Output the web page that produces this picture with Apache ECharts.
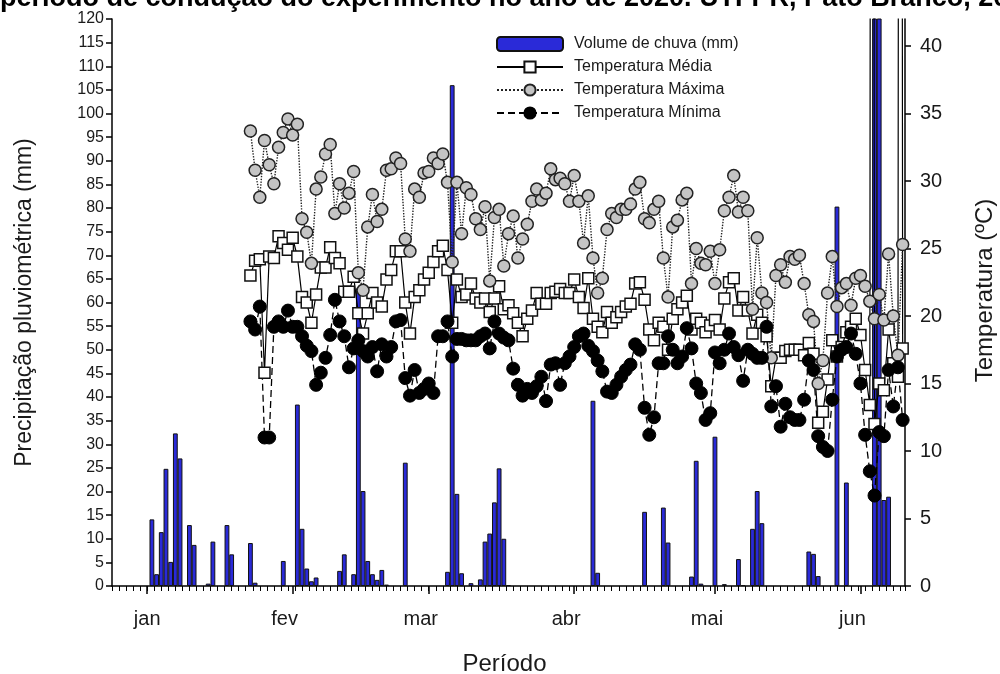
<!DOCTYPE html>
<html><head><meta charset="utf-8">
<script src="https://cdn.jsdelivr.net/npm/echarts@6/dist/echarts.min.js"></script>
<style>html,body{margin:0;padding:0;background:#fff}#c{width:1000px;height:674px}</style>
</head><body><div id="c"></div>
<script>
const titleText = 'período de condução do experimento no ano de 2020. UTFPR, Pato Branco, 2020.';
const monthLabels = ['jan', 'fev', 'mar', 'abr', 'mai', 'jun'];
const monthStartDays = [0, 31, 60, 91, 121, 152];
const rightTicks = [0,5,10,15,20,25,30,35,40];
const firstTempDay = 22;
const tempMax = [
  33.7,30.8,28.8,33.0,31.2,29.8,32.5,33.6,34.6,33.4,
  34.2,27.2,26.2,23.9,29.4,30.3,32.0,32.7,27.6,29.8,
  28.0,29.1,30.7,23.2,21.9,26.6,29.0,27.0,27.9,30.8,
  30.9,31.7,31.3,25.7,24.8,29.4,28.8,30.6,30.7,31.7,
  31.3,32.0,29.9,24.0,29.9,26.1,29.5,29.0,27.2,26.4,
  28.1,22.6,27.3,27.9,23.7,26.1,27.4,24.3,25.7,26.8,
  28.5,29.4,28.6,29.1,30.9,30.1,30.2,29.8,28.5,30.4,
  28.5,25.4,28.9,24.3,21.7,22.8,26.4,27.6,27.3,27.9,
  27.9,28.3,29.4,29.9,27.2,26.9,27.9,28.5,24.3,21.4,
  26.6,27.1,28.6,29.1,22.4,25.0,23.9,23.8,24.8,22.4,
  24.9,27.8,28.8,30.4,27.7,28.8,27.8,20.5,25.8,21.7,
  21.0,16.9,23.0,23.8,22.5,24.4,24.2,24.5,22.4,20.1,
  19.6,15.0,16.7,21.7,24.4,20.7,22.1,22.4,20.8,22.8,
  23.0,22.2,21.1,19.8,21.6,19.7,24.6,20.0,17.1,25.3
];
const tempMean = [
  23.0,24.1,24.2,15.8,24.4,24.3,25.9,25.4,24.9,25.8,
  24.4,21.4,21.0,19.5,21.6,23.6,23.6,25.1,24.3,23.9,
  21.8,21.8,22.9,20.2,18.7,20.2,21.7,21.0,20.7,22.7,
  23.4,24.8,24.8,21.0,18.7,21.4,21.9,22.7,23.2,24.0,
  24.8,25.2,23.4,19.5,22.7,21.4,21.6,22.4,21.3,21.0,
  21.3,20.3,21.3,22.2,20.5,20.8,20.2,19.5,18.5,19.8,
  20.4,21.7,20.9,20.9,21.7,21.8,22.0,21.7,21.7,22.7,
  21.4,20.6,22.8,19.8,19.2,18.8,20.3,19.5,19.9,20.3,
  20.7,20.9,22.4,22.5,21.2,19.0,18.2,19.5,19.2,17.5,
  19.8,20.5,21.0,21.5,19.0,19.8,19.5,18.8,19.3,19.7,
  19.0,21.3,22.5,22.8,20.4,21.4,20.4,18.7,20.1,19.5,
  18.5,14.8,16.9,16.9,17.4,17.5,17.5,17.5,17.1,18.0,
  17.2,12.1,12.9,15.3,18.2,17.0,17.7,18.8,19.2,19.8,
  18.6,16.0,13.4,12.0,15.0,14.5,19.0,16.5,15.5,17.6
];
const tempMin = [
  19.6,19.0,20.7,11.0,11.0,19.2,19.6,19.2,20.4,19.2,
  19.2,18.5,17.8,17.4,14.9,15.8,16.9,18.6,21.2,19.6,
  18.5,16.2,17.6,18.2,17.4,17.0,17.7,15.9,17.9,17.0,
  17.7,19.6,19.7,15.4,14.1,16.0,14.3,14.6,15.0,14.3,
  18.5,18.5,19.6,17.0,18.3,18.3,18.2,18.2,18.2,18.5,
  18.7,17.6,19.6,18.7,18.4,18.2,16.1,14.9,14.1,14.6,
  14.3,14.8,15.5,13.7,16.4,16.5,14.9,16.5,17.0,17.7,
  18.5,18.7,17.8,17.4,16.7,15.9,14.4,14.3,14.9,15.5,
  16.0,16.4,17.9,17.5,13.2,11.2,12.5,16.5,16.5,18.5,
  17.5,16.5,17.0,19.1,17.6,15.0,14.3,12.3,12.8,17.3,
  16.5,17.5,18.7,17.7,17.1,15.2,17.5,17.2,16.9,16.9,
  19.2,13.3,14.8,11.8,13.5,12.5,12.3,12.3,13.8,16.7,
  16.0,11.1,10.3,10.0,13.8,17.0,17.5,17.7,18.7,17.2,
  15.0,11.2,8.5,6.7,11.4,11.1,16.0,13.3,16.2,12.3
];
// days where the mean line runs off the top of the plot
const meanOffScaleDays = [154.5, 160.5];
const meanOffScaleValue = 200;
const rainDays = [1,2,3,4,5,6,7,9,10,13,14,17,18,22,23,29,32,33,34,35,36,41,42,44,45,46,47,48,49,50,51,55,64,65,66,67,69,71,72,73,74,75,76,77,95,96,106,110,111,116,117,118,121,123,126,127,129,130,131,141,142,143,147,149,155,156,157,158];
const rainMm = [14.1,2.5,11.4,24.8,5.1,32.3,27.0,12.9,8.7,0.5,9.4,12.9,6.7,9.1,0.7,5.3,38.4,12.1,3.7,1.0,1.8,3.2,6.7,2.5,63,20.1,5.3,2.5,1.3,3.4,0.3,26.1,3.0,106,19.5,2.7,0.6,1.4,9.4,11.1,17.7,24.9,10.0,0.2,39.2,2.8,15.7,16.6,9.2,2.0,26.5,0.5,31.6,0.4,5.7,0.2,12.1,20.1,13.3,7.3,6.8,2.1,80.3,21.9,130,130,18.2,18.9];

const FONT = '"Liberation Sans", Arial, sans-serif';
const TXT = '#1a1a1a';
const toPairs = arr => arr.map((v, i) => [firstTempDay + i, v]);
const meanData = toPairs(tempMean).concat(meanOffScaleDays.map(d => [d, meanOffScaleValue])).sort((a, b) => a[0] - b[0]);
const rainData = rainDays.map((d, i) => [d, rainMm[i]]);
const monthOf = {}; monthStartDays.forEach((d, i) => monthOf[d] = monthLabels[i]);

const chart = echarts.init(document.getElementById('c'), null, {renderer: 'canvas'});
chart.setOption({
  animation: false,
  backgroundColor: '#fff',
  graphic: [{
    type: 'text', left: 0, top: -15,
    style: {text: titleText, font: 'bold 27px ' + FONT, fill: '#000'}
  }],
  legend: {
    orient: 'vertical', left: 491, top: 31,
    itemWidth: 66, itemHeight: 14, itemGap: 7,
    textStyle: {fontSize: 16, fontFamily: FONT, color: TXT, padding: [0, 0, 0, 6]},
    data: ['Volume de chuva (mm)', 'Temperatura Média', 'Temperatura Máxima', 'Temperatura Mínima']
  },
  grid: {left: 112, right: 95, top: 19, bottom: 88, containLabel: false, outerBoundsMode: 'none'},
  xAxis: [{
    type: 'value', min: -7.5, max: 161.5,
    name: 'Período', nameLocation: 'middle', nameGap: 66,
    nameTextStyle: {fontSize: 24, fontFamily: FONT, color: TXT, padding: [0, 8, 0, 0]},
    axisLine: {show: true, onZero: false, lineStyle: {color: '#000', width: 1.5}},
    axisTick: {show: true, customValues: monthStartDays, length: 8, lineStyle: {color: '#000', width: 1.5}},
    axisLabel: {customValues: monthStartDays, margin: 23,
      formatter: v => (v === 0 ? '{j|' : '{a|') + (monthOf[v] || '') + '}',
      rich: {
        a: {fontSize: 20, fontFamily: FONT, color: TXT, padding: [0, 16, 0, 0]},
        j: {fontSize: 20, fontFamily: FONT, color: TXT}
      }},
    splitLine: {show: false}
  }, {
    type: 'value', min: -7.5, max: 161.5, interval: 1.5, position: 'bottom',
    axisLine: {show: false, onZero: false},
    axisTick: {show: true, length: 5, lineStyle: {color: '#000', width: 1}},
    axisLabel: {show: false},
    splitLine: {show: false}
  }],
  yAxis: [{
    type: 'value', min: 0, max: 120, interval: 5, position: 'left',
    name: 'Precipitação pluviométrica (mm)', nameLocation: 'middle', nameGap: 76, nameRotate: 90,
    nameTextStyle: {fontSize: 23, fontFamily: FONT, color: TXT},
    axisLine: {show: true, onZero: false, lineStyle: {color: '#000', width: 1.5}},
    axisTick: {show: true, length: 6, lineStyle: {color: '#000', width: 1.5}},
    axisLabel: {fontSize: 16, fontFamily: FONT, color: TXT, margin: 8},
    splitLine: {show: false}
  }, {
    type: 'value', min: 0, max: 42, position: 'right',
    name: 'Temperatura (ºC)', nameLocation: 'middle', nameGap: 68, nameRotate: 90,
    nameTextStyle: {fontSize: 24, fontFamily: FONT, color: TXT, padding: [0, 0, 0, 24]},
    axisLine: {show: true, onZero: false, lineStyle: {color: '#000', width: 1.5}},
    axisTick: {show: true, customValues: rightTicks, length: 6, lineStyle: {color: '#000', width: 1.5}},
    axisLabel: {customValues: rightTicks, fontSize: 20, fontFamily: FONT, color: TXT, margin: 15},
    splitLine: {show: false}
  }],
  series: [{
    name: 'Temperatura Média', type: 'line', xAxisIndex: 0, yAxisIndex: 1, data: meanData,
    clip: true, symbol: 'rect', symbolSize: 11,
    lineStyle: {color: '#000', width: 1.2, type: 'solid'},
    itemStyle: {color: '#fff', borderColor: '#111', borderWidth: 1.5}
  }, {
    name: 'Temperatura Máxima', type: 'line', xAxisIndex: 0, yAxisIndex: 1, data: toPairs(tempMax),
    clip: true, symbol: 'circle', symbolSize: 12,
    lineStyle: {color: '#222', width: 1.4, type: 'dotted'},
    itemStyle: {color: '#c4c4c4', borderColor: '#222', borderWidth: 1.5}
  }, {
    name: 'Temperatura Mínima', type: 'line', xAxisIndex: 0, yAxisIndex: 1, data: toPairs(tempMin),
    clip: true, symbol: 'circle', symbolSize: 13,
    lineStyle: {color: '#000', width: 1.3, type: [7, 4]},
    itemStyle: {color: '#000', borderColor: '#000', borderWidth: 1}
  }, {
    name: 'Volume de chuva (mm)', type: 'bar', xAxisIndex: 0, yAxisIndex: 0, data: rainData,
    clip: true, barWidth: 4.8,
    itemStyle: {color: '#2a2ad8', borderColor: '#111', borderWidth: 1}
  }]
});
</script></body></html>
